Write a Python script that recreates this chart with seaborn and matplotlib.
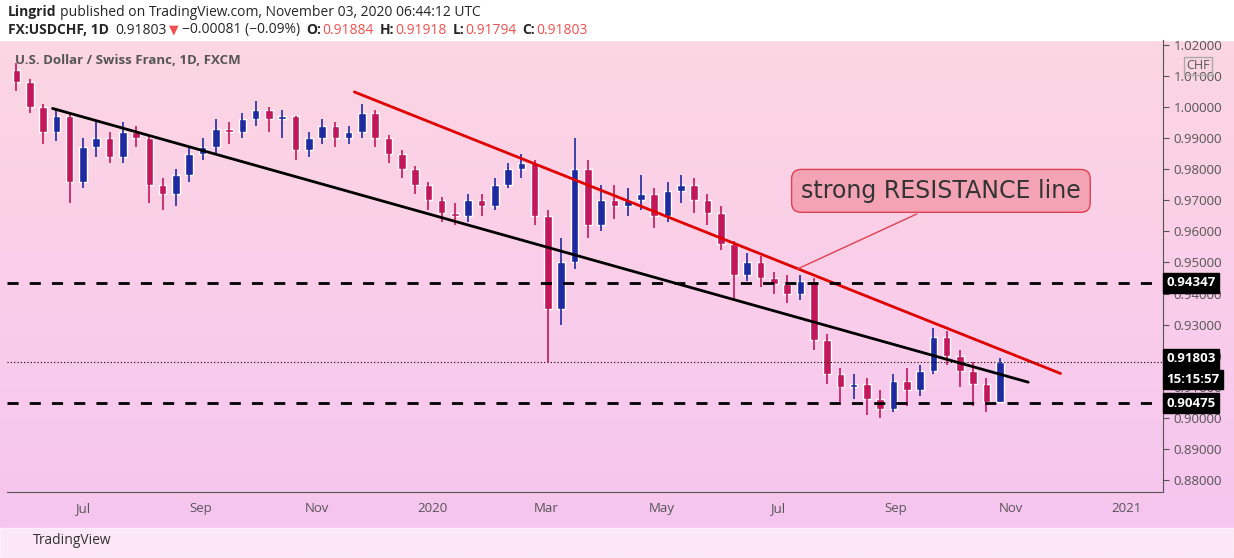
import numpy as np, pandas as pd
import matplotlib
matplotlib.use("Agg")
import matplotlib.pyplot as plt
import matplotlib.dates as mdates
from matplotlib.colors import LinearSegmentedColormap
import seaborn as sns

start_week = "2019-05-27"
closes = [1.008,1.000,0.992,0.997,0.976,0.987,0.990,0.984,0.992,0.990,0.975,0.972,0.978,0.985,0.987,0.993,0.992,0.996,0.999,0.996,0.997,0.986,0.990,0.994,0.990,0.992,0.998,0.990,0.985,0.980,0.975,0.970,0.966,0.965,0.970,0.968,0.975,0.980,0.982,0.965,0.935,0.950,0.980,0.962,0.970,0.968,0.970,0.972,0.965,0.973,0.975,0.970,0.966,0.956,0.946,0.950,0.945,0.943,0.940,0.944,0.925,0.914,0.910,0.911,0.906,0.903,0.912,0.909,0.915,0.926,0.920,0.915,0.911,0.905,0.91803]
opens = [1.012] + closes[:-1]
highs = [1.014,1.009,1.001,0.999,0.998,0.990,0.995,0.992,0.995,0.994,
         0.991,0.977,0.980,0.987,0.990,0.996,0.995,0.998,1.002,1.000,
         0.999,0.997,0.992,0.996,0.995,0.994,1.001,0.999,0.991,0.986,
         0.981,0.976,0.971,0.969,0.972,0.972,0.977,0.982,0.985,0.983,
         0.967,0.958,0.990,0.983,0.975,0.975,0.974,0.978,0.974,0.976,
         0.978,0.977,0.972,0.968,0.957,0.953,0.952,0.947,0.946,0.946,
         0.945,0.927,0.916,0.914,0.913,0.909,0.914,0.916,0.917,0.929,
         0.928,0.922,0.918,0.913,0.91918]
lows = [1.005,0.998,0.988,0.989,0.969,0.974,0.984,0.982,0.982,0.987,
        0.969,0.967,0.968,0.976,0.983,0.985,0.988,0.990,0.994,0.992,
        0.990,0.983,0.984,0.988,0.987,0.988,0.990,0.987,0.982,0.977,
        0.972,0.967,0.963,0.962,0.963,0.965,0.967,0.974,0.977,0.962,
        0.918,0.930,0.948,0.958,0.960,0.964,0.965,0.967,0.961,0.963,
        0.969,0.966,0.962,0.954,0.938,0.944,0.942,0.940,0.937,0.938,
        0.922,0.911,0.905,0.906,0.901,0.900,0.902,0.904,0.907,0.914,
        0.917,0.910,0.904,0.902,0.905]
support_black = (["2019-06-15", "2020-11-10"], [0.9995, 0.9115])
resist_red = (["2019-11-21", "2020-11-27"], [1.0048, 0.9143])
levels = [0.94347, 0.90475]
last_price = 0.91803
ticks_y = [0.88, 0.89, 0.90, 0.91, 0.92, 0.93, 0.94, 0.95, 0.96, 0.97, 0.98, 0.99, 1.00, 1.01, 1.02]
x_ticks = ["2019-07-01","2019-09-01","2019-11-01","2020-01-01","2020-03-01","2020-05-01","2020-07-01","2020-09-01","2020-11-01","2021-01-01"]
x_labels = ["Jul","Sep","Nov","2020","Mar","May","Jul","Sep","Nov","2021"]

sns.set_style("white")
plt.rcParams["font.family"] = "Open Sans"
W, H = 1234, 558
fig = plt.figure(figsize=(W/100, H/100), dpi=100)
bg = fig.add_axes([0, 0, 1, 1], zorder=-5)
cmap = LinearSegmentedColormap.from_list("g", ["#f6c4f1", "#fdd8e1"])
bg.imshow(np.linspace(0, 1, 256).reshape(-1, 1), aspect="auto", cmap=cmap, origin="lower", extent=[0, 1, 0, 1])
bg.add_patch(plt.Rectangle((0, 1-40/H), 1, 40/H, color="white"))
bg.add_patch(plt.Rectangle((0, 0), 1, 30/H, color="white", alpha=0.6))
bg.set_xlim(0, 1); bg.set_ylim(0, 1); bg.axis("off")

ax = fig.add_axes([7/W, 1-492/H, (1163-7)/W, (492-40)/H])
ax.set_facecolor("none")
dates = pd.date_range(start_week, periods=len(closes), freq="7D")
dn = mdates.date2num(dates)
up = "#1f2aa0"; dnc = "#c2185b"
for d, o, h, l, c in zip(dn, opens, highs, lows, closes):
    col = up if c >= o else dnc
    ax.vlines(d, l, h, color=col, lw=1.2)
    ax.bar(d, abs(c-o) if abs(c-o) > 0.0005 else 0.0005, bottom=min(o, c), width=4, color=col)

sns.lineplot(x=mdates.date2num(pd.to_datetime(support_black[0])), y=support_black[1], ax=ax, color="black", lw=2)
sns.lineplot(x=mdates.date2num(pd.to_datetime(resist_red[0])), y=resist_red[1], ax=ax, color="#e00000", lw=2)
for lv in levels:
    ax.axhline(lv, color="black", lw=2, ls=(0, (4, 4)))
ax.axhline(last_price, color="black", lw=0.8, ls=(0, (1, 2)))

ax.set_xlim(mdates.date2num(pd.Timestamp("2019-05-22")), mdates.date2num(pd.Timestamp("2021-01-20")))
ax.set_ylim(0.8762, 1.0215)
ax.yaxis.tick_right()
ax.set_yticks(ticks_y)
ax.set_yticklabels([f"{t:.5f}" for t in ticks_y], color="#555555", fontsize=9.5)
ax.set_xticks(mdates.date2num(pd.to_datetime(x_ticks)))
ax.set_xticklabels(x_labels, color="#555555", fontsize=9.5)
ax.tick_params(axis="both", length=4, color="#555555")
for s in ["top", "left"]:
    ax.spines[s].set_visible(False)
for s in ["right", "bottom"]:
    ax.spines[s].set_color("#555555")

box = dict(boxstyle="square,pad=0.25", fc="black", ec="black")
for lv, yy in [(0.94347, 0.94347), (last_price, 0.9190), (0.90475, 0.90475)]:
    ax.text(1.003, yy, f"{lv:.5f}", transform=ax.get_yaxis_transform(), va="center", ha="left",
            color="white", fontsize=9.5, fontweight="bold", bbox=box)
ax.text(1.003, 0.9124, "15:15:57", transform=ax.get_yaxis_transform(), va="center", ha="left",
        color="white", fontsize=9.5, fontweight="bold", bbox=box)
ax.text(1.02, 1.0132, "CHF", transform=ax.get_yaxis_transform(), va="center", ha="left", color="#555555", fontsize=9,
        bbox=dict(boxstyle="square,pad=0.2", fc="none", ec="#aaaaaa"))

ax.annotate("strong RESISTANCE line", xy=(mdates.date2num(pd.Timestamp("2020-07-10")), 0.9475),
            xytext=(mdates.date2num(pd.Timestamp("2020-09-25")), 0.9730), fontsize=17, color="#333333",
            ha="center", va="center", family="DejaVu Sans",
            bbox=dict(boxstyle="round,pad=0.4", fc="#f3a3b4", ec="#e04050"),
            arrowprops=dict(arrowstyle="-", color="#e04050", lw=1, relpos=(0.5, 0)))

renderer = fig.canvas.get_renderer()
def chain(parts, y, x0):
    x = x0
    for txt, kw, gap in parts:
        kw = dict(kw)
        kw.setdefault("fontsize", 10)
        t = fig.text(x/W, 1-y/H, txt, va="center", **kw)
        x = t.get_window_extent(renderer).x1 + gap
chain([("Lingrid", dict(fontweight="bold"), 4),
       ("published on TradingView.com, November 03, 2020 06:44:12 UTC", {}, 0)], 12, 8)
red = "#f05050"
chain([("FX:USDCHF, 1D", dict(fontweight="bold"), 6), ("0.91803", {}, 3),
       ("▼", dict(color=red, family="DejaVu Sans", fontsize=9), 3), ("−0.00081 (−0.09%)", {}, 6),
       ("O:", dict(fontweight="bold"), 1), ("0.91884", dict(color=red), 6),
       ("H:", dict(fontweight="bold"), 1), ("0.91918", dict(color=red), 6),
       ("L:", dict(fontweight="bold"), 1), ("0.91794", dict(color=red), 6),
       ("C:", dict(fontweight="bold"), 1), ("0.91803", dict(color=red), 0)], 30, 8)
fig.text(15/W, 1-61/H, "U.S. Dollar / Swiss Franc, 1D, FXCM", fontsize=9.5, fontweight="bold", color="#555555", va="center")
fig.text(33/W, 1-540/H, "TradingView", fontsize=10, color="#333333", va="center")
fig.savefig("out.png", dpi=100)
